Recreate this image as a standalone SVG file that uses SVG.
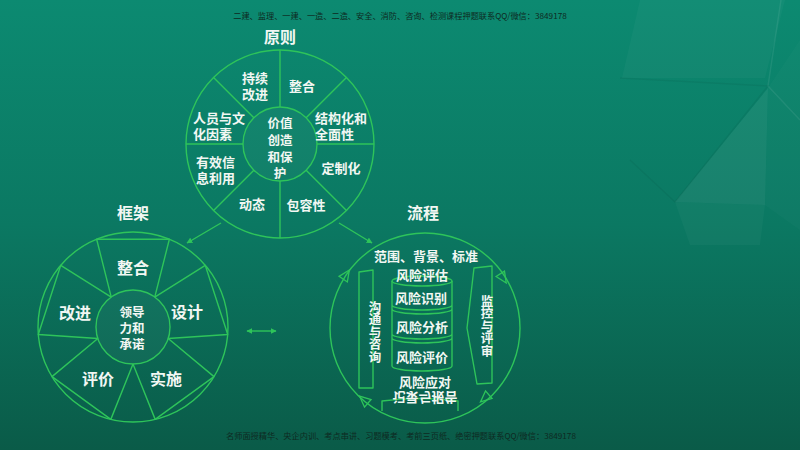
<svg xmlns="http://www.w3.org/2000/svg" width="800" height="450" viewBox="0 0 800 450">
<defs>
<linearGradient id="bg" x1="0" y1="0" x2="0" y2="1">
<stop offset="0" stop-color="#0c8a71"/>
<stop offset="0.5" stop-color="#0b7862"/>
<stop offset="1" stop-color="#0a5b48"/>
</linearGradient>
<marker id="ah" viewBox="0 0 10 10" refX="9" refY="5" markerWidth="6" markerHeight="6" orient="auto-start-reverse" markerUnits="userSpaceOnUse">
<path d="M0,0 L10,5 L0,10 Z" fill="#2ec45a"/>
</marker>
<path id="tri" d="M6,0 L-5,-5 L-5,5 Z" fill="none" stroke="#2ec45a" stroke-width="1.3"/>
<style>
.ln{fill:none;stroke:#2ec45a;stroke-width:1.4;stroke-linejoin:round}
.inner{fill:#ffffff;fill-opacity:0.03;stroke:#2ec45a;stroke-width:1.4}
.t{font-family:"Noto Sans CJK SC","Noto Sans",sans-serif;font-weight:bold;fill:#f2f7f3;dominant-baseline:central}
.s13{font-size:13px}
.s12{font-size:12.5px}
.v{font-size:12.5px;writing-mode:vertical-rl;text-anchor:middle}
.s16{font-size:16px}
.c{text-anchor:middle}
.wm{font-family:"Noto Sans CJK SC","Noto Sans",sans-serif;font-size:8.2px;fill:#0e2a22;text-anchor:middle}
</style>
</defs>

<rect width="800" height="450" fill="url(#bg)"/>
<g id="decor" fill="#ffffff">
<polygon points="640,0 785,0 765,78 622,78" fill-opacity="0.03"/>
<polygon points="768,88 765,205 675,202" fill-opacity="0.06"/>
<polygon points="675,202 765,205 760,245 690,245" fill-opacity="0.03"/>
<polygon points="768,88 800,40 800,230 765,205" fill-opacity="0.02"/>
<polyline points="781,0 768,86 800,120" fill="none" stroke="#ffffff" stroke-opacity="0.07" stroke-width="1.5"/>
<polyline points="620,78 768,86 675,202 630,160" fill="none" stroke="#000000" stroke-opacity="0.05" stroke-width="1.5"/>
</g>

<text class="wm" x="400" y="19">二建、监理、一建、一造、二造、安全、消防、咨询、检测课程押题联系QQ/微信：3849178</text>
<text class="wm" x="401" y="439">名师面授精华、央企内训、考点串讲、习题模考、考前三页纸、绝密押题联系QQ/微信：3849178</text>

<g id="principles">
<text class="t s16 c" x="280" y="36">原则</text>
<circle class="ln" cx="280" cy="144" r="94"/>
<path class="ln" d="M317,144 L374,144 M306.16,117.84 L346.47,77.53 M280,107 L280,50 M253.84,117.84 L213.53,77.53 M243,144 L186,144 M253.84,170.16 L213.53,210.47 M280,181 L280,238 M306.16,170.16 L346.47,210.47"/>
<circle class="inner" cx="280" cy="144" r="37"/>
<text id="p-center" class="t s12 c"><tspan x="280" y="122">价值</tspan><tspan x="280" y="139">创造</tspan><tspan x="280" y="156">和保</tspan><tspan x="280" y="172">护</tspan></text>
<g id="p-sectors" class="t s13">
<text class="c"><tspan x="255" y="77">持续</tspan><tspan x="255" y="93">改进</tspan></text>
<text class="c" x="302" y="85">整合</text>
<text><tspan x="315" y="117">结构化和</tspan><tspan x="315" y="133">全面性</tspan></text>
<text class="c" x="341" y="167">定制化</text>
<text class="c" x="306" y="204">包容性</text>
<text class="c" x="252" y="203">动态</text>
<text><tspan x="196" y="161">有效信</tspan><tspan x="196" y="177">息利用</tspan></text>
<text><tspan x="193" y="117">人员与文</tspan><tspan x="193" y="133">化因素</tspan></text>
</g>
</g>

<g id="framework">
<text class="t s16 c" x="133" y="212">框架</text>
<circle class="ln" cx="133" cy="327" r="95"/>
<polyline class="ln" points="111.25,297.07 96.64,239.23 169.36,239.23 154.75,297.07"/>
<polyline class="ln" points="154.75,297.07 205.24,265.31 227.71,334.45 168.19,338.43"/>
<polyline class="ln" points="168.19,338.43 214,376.64 155.18,419.38 133,364"/>
<polyline class="ln" points="133,364 110.82,419.38 52,376.64 97.81,338.43"/>
<polyline class="ln" points="97.81,338.43 38.29,334.45 60.76,265.31 111.25,297.07"/>
<circle class="inner" cx="133" cy="327" r="37"/>
<text class="t s12 c"><tspan x="132" y="311">领导</tspan><tspan x="132" y="327">力和</tspan><tspan x="132" y="343">承诺</tspan></text>
<g class="t s16 c">
<text x="133" y="267">整合</text>
<text x="187" y="311">设计</text>
<text x="166" y="378">实施</text>
<text x="98" y="378">评价</text>
<text x="75" y="312">改进</text>
</g>
</g>

<g id="process">
<text class="t s16 c" x="423" y="212">流程</text>
<circle class="ln" cx="425" cy="328" r="95"/>
<use href="#tri" transform="translate(346,275) rotate(-56)"/>
<use href="#tri" transform="translate(503,278) rotate(57)"/>
<use href="#tri" transform="translate(485,398) rotate(139)"/>
<use href="#tri" transform="translate(364,400) rotate(221)"/>
<text class="t s13 c" x="426" y="255">范围、背景、标准</text>
<g id="comm">
<polygon class="ln" points="359,272 373,270 373,388 359,388"/>
<text class="t v" x="375" y="332">沟通与咨询</text>
</g>
<g id="monitor">
<polygon class="ln" points="474,268 492,266 492,383 477,384 467,328"/>
<text class="t v" x="487" y="326">监控与评审</text>
</g>
<g id="assessment">
<ellipse class="ln" cx="422" cy="281" rx="30" ry="5"/>
<path class="ln" d="M392,281 L392,366 A30,5 0 0 0 452,366 L452,281 M392,305 A30,5 0 0 0 452,305 M392,309 A30,5 0 0 0 452,309 M392,334 A30,5 0 0 0 452,334 M392,338 A30,5 0 0 0 452,338"/>
<g class="t s13 c">
<text x="422" y="274">风险评估</text>
<text x="421" y="297">风险识别</text>
<text x="422" y="326">风险分析</text>
<text x="422" y="356">风险评价</text>
</g>
</g>
<text class="t s13 c" x="425" y="381">风险应对</text>
<g id="record">
<path class="ln" d="M382,411 L382,401 Q420,396 458,401 L458,411"/>
<text class="t s13 c" transform="translate(425,398) scale(1,-1)" x="0" y="0">记录与报告</text>
</g>
</g>

<g id="connectors">
<line class="ln" x1="221" y1="223" x2="187" y2="243" marker-end="url(#ah)"/>
<line class="ln" x1="339" y1="223" x2="372" y2="243" marker-end="url(#ah)"/>
<line class="ln" x1="247" y1="331" x2="276" y2="331" marker-start="url(#ah)" marker-end="url(#ah)"/>
</g>
</svg>
